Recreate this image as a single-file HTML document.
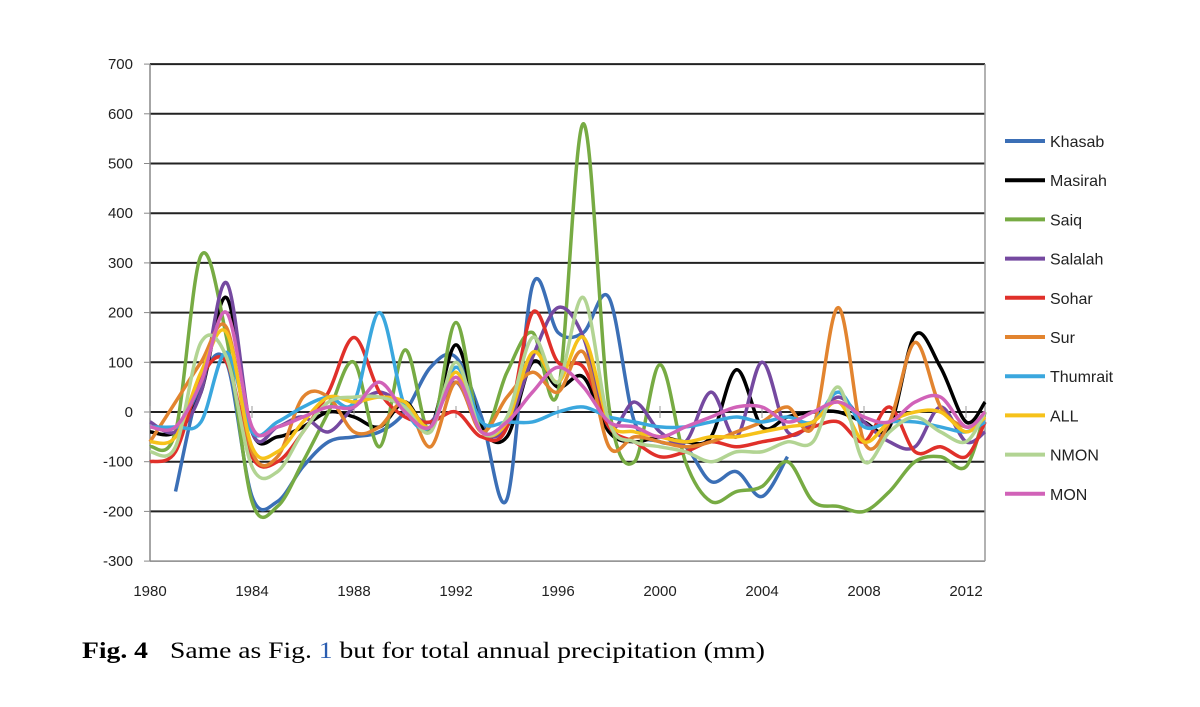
<!DOCTYPE html>
<html><head><meta charset="utf-8"><style>
body{margin:0;background:#fff;}
svg text{font-family:"Liberation Sans",sans-serif;}
</style></head><body>
<svg width="1200" height="702">
<g id="grid"></g>
<g id="series"></g>
<g id="legend"></g>
<text x="82" y="658" font-size="23" font-weight="bold" textLength="66" lengthAdjust="spacingAndGlyphs" style="font-family:'Liberation Serif',serif">Fig. 4</text>
<text x="170" y="658" font-size="23" textLength="595" lengthAdjust="spacingAndGlyphs" style="font-family:'Liberation Serif',serif">Same as Fig. <tspan fill="#2a5db0">1</tspan> but for total annual precipitation (mm)</text>
</svg>
<script>
const years=[1980,1981,1982,1983,1984,1985,1986,1987,1988,1989,1990,1991,1992,1993,1994,1995,1996,1997,1998,1999,2000,2001,2002,2003,2004,2005,2006,2007,2008,2009,2010,2011,2012,2013];
const yTicks=[700,600,500,400,300,200,100,0,-100,-200,-300];
const xTicks=[1980,1984,1988,1992,1996,2000,2004,2008,2012];
const names=["Khasab","Masirah","Saiq","Salalah","Sohar","Sur","Thumrait","ALL","NMON","MON"];
const khasab=[null,-160,60,100,-170,-180,-110,-60,-50,-40,0,90,110,-10,-175,255,160,160,230,-20,-60,-70,-140,-120,-170,-90,null,null,null,null,null,null,null,null];
const masirah=[-40,-40,40,230,-40,-50,-30,0,-10,-30,20,-30,135,-30,-50,100,50,70,-40,-60,-50,-60,-50,85,-30,-10,0,0,-20,-30,155,90,-20,20];
const saiq=[-70,-40,315,150,-180,-190,-100,0,100,-70,125,-40,180,-40,80,160,40,580,10,-100,95,-100,-180,-160,-150,-100,-180,-190,-200,-160,-100,-90,-110,0];
const salalah=[-20,-40,40,260,-40,-30,-10,-40,10,40,10,-20,60,-40,-30,110,210,150,-30,20,-40,-60,40,-50,100,-40,-20,30,-20,-60,-70,10,-60,-40];
const sohar=[-100,-80,70,100,-90,-100,-40,40,150,40,-10,-20,0,-50,-30,200,100,90,-30,-60,-90,-80,-60,-70,-60,-50,-30,-20,-60,10,-80,-70,-90,-20];
const sur=[-60,20,100,170,-80,-90,30,30,-40,-30,20,-70,60,-40,30,80,40,120,-70,-50,-60,-70,-60,-40,-20,10,-30,210,-60,-20,140,10,-30,-10];
const thumrait=[-30,-30,-20,120,-40,-20,10,30,20,200,10,-30,90,-20,-20,-20,0,10,-10,-20,-30,-30,-20,-10,-20,-10,-20,40,-30,-20,-20,-30,-40,-20];
const allS=[-60,-50,80,160,-70,-80,-20,30,20,30,20,-30,80,-40,-20,120,60,150,-20,-40,-50,-60,-50,-50,-40,-30,-20,20,-60,-20,0,0,-40,-10];
const nmon=[-80,-70,140,110,-110,-120,-40,20,30,30,10,-40,100,-40,-10,150,60,230,-20,-60,-70,-80,-100,-80,-80,-60,-60,50,-100,-40,-10,-40,-60,0];
const mon=[-30,-30,60,200,-30,-30,-10,10,10,60,0,-30,70,-40,-20,40,90,50,-20,-30,-50,-30,-10,10,10,-20,0,20,-10,-20,20,30,-30,0];
const seriesData=[khasab,masirah,saiq,salalah,sohar,sur,thumrait,allS,nmon,mon];
const colors=["#3b6fb6","#000000","#77ab43","#7549a0","#e0302a","#e2842f","#3aa7de","#f6c21a","#b2d493","#d162b8"];
const NS="http://www.w3.org/2000/svg";
const X=y=>150+(y-1980)*25.5;
const Y=v=>412-v*0.497;
function mk(t,a,p){const e=document.createElementNS(NS,t);for(const k in a)e.setAttribute(k,a[k]);p.appendChild(e);return e;}
const grid=document.getElementById('grid');
yTicks.forEach(v=>{
  const l=mk('line',{x1:150,x2:985,y1:Y(v),y2:Y(v),stroke:v===-300?'#888':'#222','stroke-width':v===-300?1.5:2},grid);
  
  
  mk('line',{x1:144,x2:150,y1:Y(v),y2:Y(v),stroke:'#888'},grid);
  const t=mk('text',{x:133,y:Y(v)+5,'text-anchor':'end','font-size':15,fill:'#222'},grid);t.textContent=v;
  
  
});
mk('line',{x1:150,x2:150,y1:Y(700),y2:Y(-300),stroke:'#888','stroke-width':1.5},grid);
mk('line',{x1:985,x2:985,y1:Y(700),y2:Y(-300),stroke:'#999','stroke-width':1.5},grid);
xTicks.forEach(y=>{
  mk('line',{x1:X(y),x2:X(y),y1:Y(0)-6,y2:Y(0)+6,stroke:'#999'},grid);
  const t=mk('text',{x:X(y),y:596,'text-anchor':'middle','font-size':15,fill:'#222'},grid);t.textContent=y;
  
  
});
function path(pts){
  let d=`M${pts[0][0]},${pts[0][1]}`;
  for(let i=0;i<pts.length-1;i++){
    const p0=pts[i-1]||pts[i],p1=pts[i],p2=pts[i+1],p3=pts[i+2]||p2;
    d+=` C${p1[0]+(p2[0]-p0[0])/6},${p1[1]+(p2[1]-p0[1])/6} ${p2[0]-(p3[0]-p1[0])/6},${p2[1]-(p3[1]-p1[1])/6} ${p2[0]},${p2[1]}`;
  }
  return d;
}
const sg=document.getElementById('series');
seriesData.forEach((s,i)=>{
  const pts=[];s.forEach((v,j)=>{if(v!==null)pts.push([X(Math.min(years[j],2012.75)),Y(v)]);});
  const p=mk('path',{d:path(pts),fill:'none',stroke:colors[i],'stroke-width':3.5,'stroke-linejoin':'round'},sg);
  
  
});
const lg=document.getElementById('legend');
names.forEach((n,i)=>{
  const y=141+i*39.2;
  mk('line',{x1:1005,x2:1045,y1:y,y2:y,stroke:colors[i],'stroke-width':4},lg);
  const t=mk('text',{x:1050,y:y+6,'font-size':16,fill:'#222'},lg);t.textContent=n;
  
  
});
</script>
</body></html>
